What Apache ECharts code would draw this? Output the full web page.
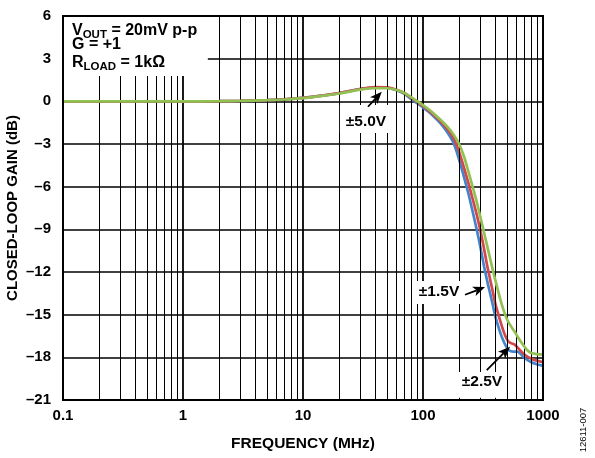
<!DOCTYPE html>
<html><head><meta charset="utf-8">
<script src="https://cdn.jsdelivr.net/npm/echarts@6/dist/echarts.min.js"></script>
<style>html,body{margin:0;padding:0;background:#fff}#c{width:595px;height:458px}</style>
</head><body><div id="c"></div>
<script>
// ---------- data (frequency in MHz, gain in dB) ----------
const freqBlue = [0.1, 0.5, 1, 2, 3, 5, 7, 10, 15, 20, 30, 40, 50, 60, 70, 80, 90, 100, 110, 120, 140, 160, 180, 200, 220, 240, 260, 280, 300, 320, 340, 360, 380, 400, 430, 460, 490, 520, 560, 610, 650, 700, 800, 900, 1000];
const gainBlue = [0, 0, 0, 0.01, 0.03, 0.08, 0.14, 0.24, 0.42, 0.58, 0.86, 0.98, 0.97, 0.78, 0.52, 0.15, -0.15, -0.42, -0.7, -0.98, -1.55, -2.2, -2.95, -4.1, -5.35, -6.55, -7.8, -9.0, -10.2, -11.45, -12.5, -13.4, -14.25, -15.1, -16.0, -16.7, -17.2, -17.5, -17.6, -17.6, -17.75, -18.05, -18.35, -18.5, -18.6];

const freqRed = [0.1, 0.5, 1, 2, 3, 5, 7, 10, 15, 20, 30, 40, 50, 60, 70, 80, 90, 100, 110, 120, 140, 160, 180, 200, 220, 240, 260, 280, 300, 320, 340, 360, 380, 400, 425, 450, 480, 510, 540, 580, 620, 700, 800, 900, 1000];
const gainRed = [0, 0, 0, 0.01, 0.03, 0.08, 0.14, 0.24, 0.42, 0.58, 0.87, 1.0, 0.98, 0.82, 0.58, 0.24, -0.06, -0.33, -0.6, -0.87, -1.4, -1.95, -2.6, -3.55, -4.7, -5.8, -6.9, -7.95, -9.05, -10.2, -11.4, -12.4, -13.3, -14.2, -15.0, -15.7, -16.4, -16.85, -17.0, -17.1, -17.35, -17.8, -18.1, -18.25, -18.35];

const freqGreen = [0.1, 0.5, 1, 2, 3, 5, 7, 10, 15, 20, 30, 40, 50, 60, 70, 80, 90, 100, 110, 120, 140, 160, 180, 200, 220, 240, 260, 280, 300, 320, 340, 360, 385, 410, 440, 470, 500, 530, 570, 620, 680, 740, 800, 900, 1000];
const gainGreen = [0, 0, 0, 0.01, 0.03, 0.08, 0.13, 0.22, 0.4, 0.55, 0.82, 0.92, 0.92, 0.8, 0.58, 0.28, 0.0, -0.26, -0.52, -0.78, -1.3, -1.8, -2.35, -3.0, -3.9, -5.0, -6.05, -7.05, -8.1, -9.1, -10.05, -10.95, -12.0, -12.9, -13.9, -14.7, -15.3, -15.7, -16.1, -16.6, -17.1, -17.5, -17.7, -17.78, -17.8];

const xTickValues = [0.1, 1, 10, 100, 1000];
const yTickValues = [6, 3, 0, -3, -6, -9, -12, -15, -18, -21];
const minorGridFreqs = [0.2,0.3,0.4,0.5,0.6,0.7,0.8,0.9, 2,3,4,5,6,7,8,9, 20,30,40,50,60,70,80,90, 200,300,400,500,600,700,800,900];

// annotation texts, placed in data coordinates [MHz, dB]
const notes = [
  { text: '±5.0V', at: [33.5, -1.4], box: [[20.3, -0.26], [55, -2.23]], arrow: [[34.8, -0.38], [45.3, 0.68]] },
  { text: '±1.5V', at: [136, -13.4], box: [[84, -12.64], [215, -14.25]], arrow: [[224, -13.6], [329, -13.06]] },
  { text: '±2.5V', at: [310, -19.74], box: [[196, -19.04], [492, -20.85]], arrow: [[340, -18.9], [531, -17.26]] }
];
const legendBox = [[0.1, 6], [1.61, 1.78]];

const FONT = '"Liberation Sans", Arial, Helvetica, sans-serif';
const chart = echarts.init(document.getElementById('c'));
const pair = (fs, gs) => fs.map((f, i) => [f, gs[i]]);
const fmtX = v => String(+(+v).toPrecision(6));
const fmtY = v => v < 0 ? '\u2013' + Math.abs(v) : String(v);

const curve = (name, color, fs, gs, z) => ({
  name, type: 'line', data: pair(fs, gs), showSymbol: false, smooth: 0.3, z,
  lineStyle: { color, width: 2.7 }, itemStyle: { color }, silent: true
});

chart.setOption({
  animation: false,
  backgroundColor: '#fff',
  grid: { left: 63, right: 52, top: 16, bottom: 58, containLabel: false, outerBoundsMode: 'none' },
  xAxis: {
    type: 'log', logBase: 10, min: 0.1, max: 1000,
    axisLine: { show: false }, axisTick: { show: false },
    axisLabel: { color: '#000', fontSize: 15, fontWeight: 'bold', fontFamily: FONT, margin: 8, formatter: fmtX },
    splitLine: { show: true, lineStyle: { color: '#000', width: 1.8 } },
    name: 'FREQUENCY (MHz)', nameLocation: 'middle', nameGap: 36, nameMoveOverlap: false,
    nameTextStyle: { color: '#000', fontSize: 15.5, fontWeight: 'bold', fontFamily: FONT }
  },
  yAxis: {
    type: 'value', min: -21, max: 6, interval: 3,
    axisLine: { show: false }, axisTick: { show: false },
    axisLabel: { color: '#000', fontSize: 15, fontWeight: 'bold', fontFamily: FONT, margin: 12, formatter: fmtY },
    splitLine: { show: true, lineStyle: { color: '#000', width: 1.5 } },
    name: 'CLOSED-LOOP GAIN (dB)', nameLocation: 'middle', nameGap: 43, nameRotate: 90, nameMoveOverlap: false,
    nameTextStyle: { color: '#000', fontSize: 15, fontWeight: 'bold', fontFamily: FONT }
  },
  series: [
    { type: 'line', data: [[1, 0]], showSymbol: false, lineStyle: { opacity: 0 }, silent: true, z: 1,
      markLine: { silent: true, symbol: ['none', 'none'], label: { show: false }, animation: false,
        lineStyle: { color: '#000', width: 1, type: 'solid' },
        data: minorGridFreqs.map(f => ({ xAxis: f })) } },
    curve('blue', '#4385cc', freqBlue, gainBlue, 3),
    curve('red', '#d2474a', freqRed, gainRed, 4),
    curve('green', '#93c052', freqGreen, gainGreen, 5)
  ]
});

const px = p => chart.convertToPixel({ gridIndex: 0 }, p);
const els = [];
const rectFrom = (a, b) => {
  const p1 = px(a), p2 = px(b);
  return { x: Math.min(p1[0], p2[0]), y: Math.min(p1[1], p2[1]), width: Math.abs(p2[0] - p1[0]), height: Math.abs(p2[1] - p1[1]) };
};
// legend mask
els.push({ type: 'rect', z: 100, shape: rectFrom(legendBox[0], legendBox[1]), style: { fill: '#fff' } });
notes.forEach(n => {
  els.push({ type: 'rect', z: 100, shape: rectFrom(n.box[0], n.box[1]), style: { fill: '#fff' } });
  const c = px(n.at);
  els.push({ type: 'text', z: 101, x: c[0], y: c[1], style: { text: n.text, fill: '#000', font: 'bold 15.5px ' + FONT, align: 'center', verticalAlign: 'middle', textAlign: 'center', textVerticalAlign: 'middle' } });
  const t = px(n.arrow[0]), h = px(n.arrow[1]);
  const dx = h[0] - t[0], dy = h[1] - t[1], L = Math.hypot(dx, dy), ux = dx / L, uy = dy / L;
  const hl = 12, hw = 5;
  const bx = h[0] - ux * hl, by = h[1] - uy * hl;
  const nx = h[0] - ux * (hl - 3), ny = h[1] - uy * (hl - 3);
  els.push({ type: 'line', z: 101, shape: { x1: t[0], y1: t[1], x2: nx, y2: ny }, style: { stroke: '#000', lineWidth: 1.8 } });
  els.push({ type: 'polygon', z: 101, shape: { points: [h, [bx - uy * hw, by + ux * hw], [nx, ny], [bx + uy * hw, by - ux * hw]] }, style: { fill: '#000' } });
});
// legend text
const richBase = { m: { fontSize: 16, fontWeight: 'bold', fontFamily: FONT, lineHeight: 20, fill: '#000', color: '#000' },
                   s: { fontSize: 11.5, fontWeight: 'bold', fontFamily: FONT, lineHeight: 10, verticalAlign: 'bottom', fill: '#000', color: '#000' } };
[['{m|V}{s|OUT}{m| = 20mV p-p}', 31], ['{m|G = +1}', 45], ['{m|R}{s|LOAD}{m| = 1k\u03A9}', 63]].forEach(([t, y]) => {
  els.push({ type: 'text', z: 101, x: 72, y, style: { text: t, rich: richBase, fill: '#000', align: 'left', verticalAlign: 'middle', textAlign: 'left', textVerticalAlign: 'middle' } });
});
// frame
const g0 = px([0.1, 6]), g1 = px([1000, -21]);
els.push({ type: 'rect', z: 102, shape: { x: g0[0], y: g0[1], width: g1[0] - g0[0], height: g1[1] - g0[1] }, style: { fill: 'none', stroke: '#000', lineWidth: 2 } });
// figure id
els.push({ type: 'text', z: 101, x: 583, y: 430, rotation: Math.PI / 2, style: { text: '12611-007', fill: '#000', font: '9.5px ' + FONT, align: 'center', verticalAlign: 'middle', textAlign: 'center', textVerticalAlign: 'middle' } });
chart.setOption({ graphic: { elements: els } });
</script></body></html>
